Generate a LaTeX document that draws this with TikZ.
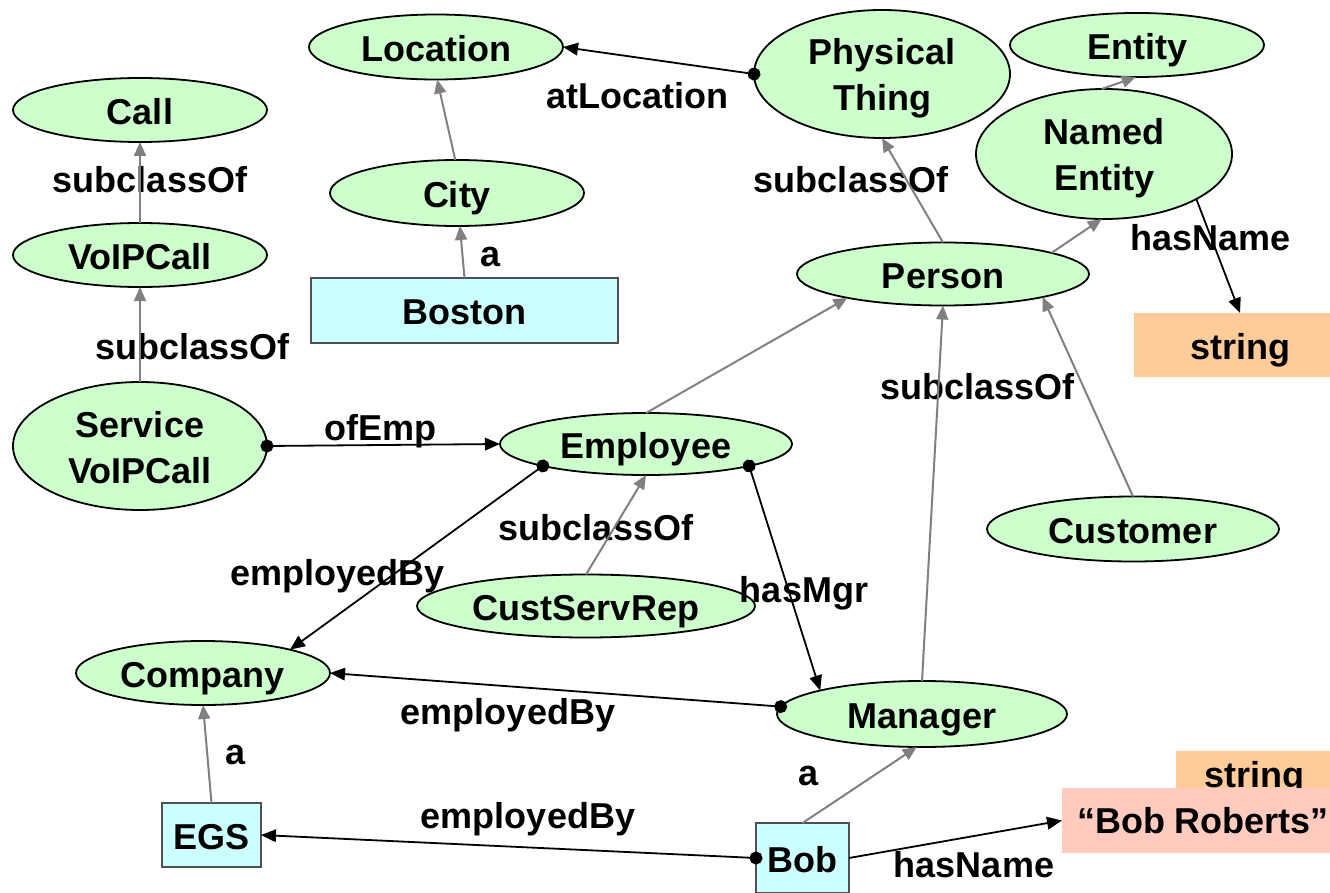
\documentclass[tikz,border=0pt]{standalone}
\usepackage{fontspec}
\setmainfont{Liberation Sans}
\usetikzlibrary{shapes.geometric,arrows.meta}
\definecolor{classfill}{HTML}{CCFFCC}
\definecolor{instfill}{HTML}{CCFFFF}
\definecolor{typefill}{HTML}{FFCC99}
\definecolor{litfill}{HTML}{FFCBBF}
\definecolor{subgray}{HTML}{808080}
\definecolor{instline}{HTML}{505050}
% two-line class label with struts that keep both lines centred in the ellipse
\newcommand\twoline[2]{\rule{0pt}{36pt}#1\\#2\rule[-8pt]{0pt}{8pt}}
\begin{document}
\begin{tikzpicture}[x=1pt,y=-1pt,
  font=\fontsize{36}{46}\selectfont\bfseries,
  every node/.style={inner sep=0pt, outer sep=0pt},
  clsbase/.style={ellipse, draw=black, line width=1.8pt, fill=classfill},
  cls/.style={clsbase, text height=29pt, text depth=0pt},
  cls2/.style={clsbase, align=center},
  inst/.style={rectangle, draw=instline, line width=1.5pt, fill=instfill,
    text height=28pt, text depth=0pt},
  typebox/.style={rectangle, fill=typefill, text height=28pt, text depth=0pt},
  litbox/.style={rectangle, fill=litfill, text height=26pt, text depth=0pt},
  lbl/.style={text height=26pt, text depth=0pt},
  isa/.style={draw=subgray, line width=2pt, -{Triangle[length=14pt,width=12pt]}},
  prop/.style={draw=black, line width=1.8pt, shorten <=-6.5pt,
    {Circle[length=13pt]}-{Triangle[length=15pt,width=12.5pt]}},
  propline/.style={draw=black, line width=1.8pt, -{Triangle[length=15pt,width=12.5pt]}},
]
\useasboundingbox (0,0) rectangle (1330,893);

% class nodes
\node[cls, minimum width=254pt, minimum height=64pt] (call) at (140,110) {Call};
\node[cls, minimum width=254pt, minimum height=64pt] (voip) at (140,255) {VoIPCall};
\node[cls2, minimum width=254pt, minimum height=128pt] (svc) at (140,446) {\twoline{Service}{VoIPCall}};
\node[cls, minimum width=254pt, minimum height=65pt] (loc) at (436,47) {Location};
\node[cls, minimum width=254pt, minimum height=66pt] (city) at (457,193) {City};
\node[cls2, minimum width=256pt, minimum height=128pt] (pt) at (882,74) {\twoline{Physical}{Thing}};
\node[cls, minimum width=254pt, minimum height=64pt] (entity) at (1137,45) {Entity};
\node[cls2, minimum width=256pt, minimum height=130pt] (ne) at (1104,154) {\twoline{Named}{Entity}};
\node[cls, minimum width=292pt, minimum height=63pt] (person) at (943,274) {Person};
\node[cls, minimum width=292pt, minimum height=62pt] (emp) at (646,444) {Employee};
\node[cls, minimum width=338pt, minimum height=63pt] (csr) at (586,606) {CustServRep};
\node[cls, minimum width=254pt, minimum height=64pt] (company) at (203,673) {Company};
\node[cls, minimum width=290pt, minimum height=66pt] (mgr) at (922,714) {Manager};
\node[cls, minimum width=292pt, minimum height=65pt] (cust) at (1133,529) {Customer};

% instances
\node[inst, minimum width=307pt, minimum height=65pt] (boston) at (464.5,310.5) {Boston};
\node[inst, minimum width=99pt, minimum height=64pt] (egs) at (211.5,835) {EGS};
\node[inst, minimum width=93pt, minimum height=70pt] (bob) at (802.5,858) {Bob};

% datatypes and literals
\node[typebox, minimum width=212pt, minimum height=64pt] (str1) at (1240,345) {string};
\node[typebox, minimum width=156pt, minimum height=44pt] (str2) at (1254,773) {string};
\node[litbox, minimum width=282pt, minimum height=65pt] (bobname) at (1203,820.5) {“Bob Roberts”};

% edge labels
\node[lbl] (l1) at (150,179.5) {subclassOf};
\node[lbl] (l2) at (192.5,346) {subclassOf};
\node[lbl] (l3) at (637.5,96) {atLocation};
\node[lbl] (l4) at (851,180) {subclassOf};
\node[lbl] (l5) at (1210.5,237.5) {hasName};
\node[lbl] (l6) at (491,254) {a};
\node[lbl] (l7) at (380.5,427.5) {ofEmp};
\node[lbl] (l8) at (337.5,572) {employedBy};
\node[lbl] (l9) at (596,527.5) {subclassOf};
\node[lbl] (l10) at (804,589.5) {hasMgr};
\node[lbl] (l11) at (977.5,386) {subclassOf};
\node[lbl] (l12) at (508,711) {employedBy};
\node[lbl] (l13) at (236,751) {a};
\node[lbl] (l14) at (808,772) {a};
\node[lbl] (l15) at (528,815) {employedBy};
\node[lbl] (l16) at (974,864) {hasName};

% subclass / instance-of links
\draw[isa] (voip.north) -- (call.south);
\draw[isa] (svc.north) -- (voip.south);
\draw[isa] (city.93) -- (loc.272);
\draw[isa] (boston.north) -- (city.275);
\draw[isa] (person.90) -- (pt.270);
\draw[isa] (person.11) -- (ne.268);
\draw[isa] (ne.92) -- (entity.268);
\draw[isa] (emp.90) -- (person.194);
\draw[isa] (mgr.90) -- (person.270);
\draw[isa] (cust.90) -- (person.347);
\draw[isa] (csr.90) -- (emp.270);
\draw[isa] (egs.north) -- (company.south);
\draw[isa] (bob.north) -- (mgr.261);

% properties
\draw[prop] (pt.180) -- (loc.east);
\draw[prop] (svc.east) -- (emp.west);
\draw[prop] (emp.192) -- (company.15);
\draw[prop] (emp.348) -- (mgr.167);
\draw[prop] (mgr.177) -- (company.east);
\draw[prop] (bob.west) -- (egs.east);
\draw[propline] (bob.east) -- (bobname.west);
\draw[propline] (ne.334) -- (str1.north);
\end{tikzpicture}
\end{document}
